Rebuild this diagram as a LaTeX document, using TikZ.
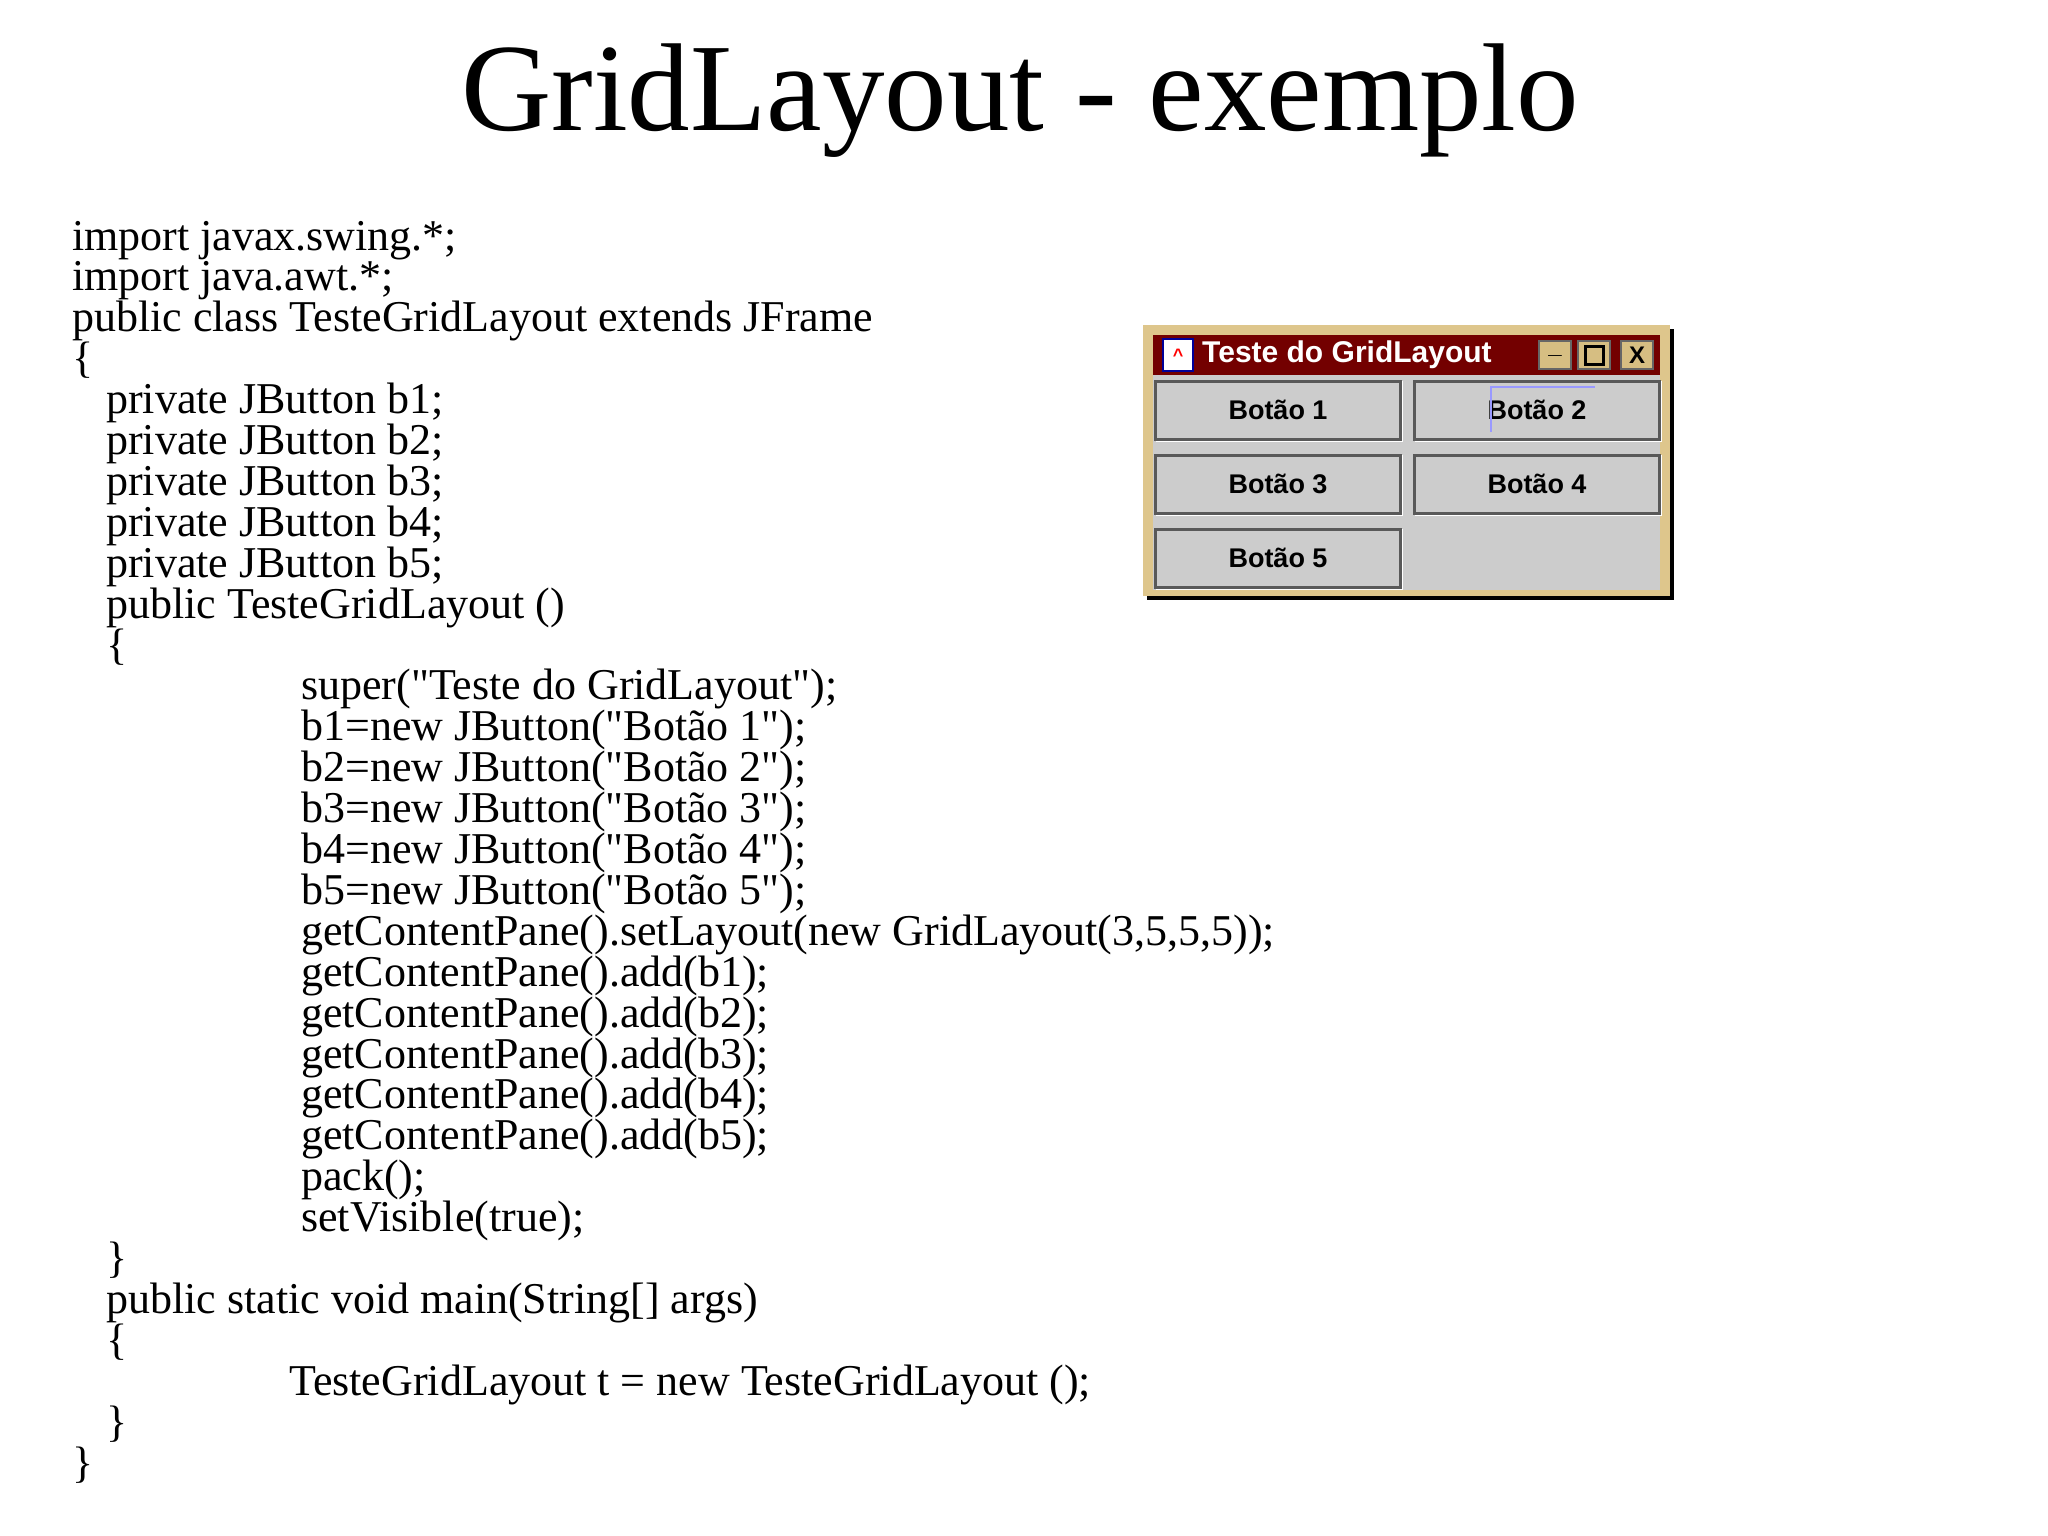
\documentclass[tikz,border=0pt]{standalone}
\usepackage{fontspec}
\setmainfont{Liberation Serif}
\newfontfamily\uifont{Liberation Sans}
\definecolor{tan}{RGB}{222,198,140}
\definecolor{ctlc}{RGB}{214,190,130}
\newcommand{\q}{\textquotedbl}
\begin{document}
\begin{tikzpicture}[x=1pt,y=-1pt,
  code/.style={anchor=base west,inner sep=0pt,font=\fontsize{44}{44}\selectfont},
  btn/.style={draw=black!65,line width=3pt,fill=black!20,minimum width=245pt,minimum height=58pt,font=\uifont\bfseries\fontsize{27}{27}\selectfont},
  ctl/.style={fill=ctlc,draw=black!60,line width=1.5pt,minimum width=32pt,minimum height=28pt,inner sep=0pt,font=\uifont\bfseries\fontsize{24}{24}\selectfont}]
\useasboundingbox[fill=white] (0,0) rectangle (2048,1536);
\node[anchor=base,inner sep=0pt,font=\fontsize{125}{125}\selectfont] (title) at (1020,131) {GridLayout - exemplo};
\foreach \i/\x/\t in {
 1/72/{import javax.swing.*;},
 2/72/{import java.awt.*;},
 3/72/{public class TesteGridLayout extends JFrame},
 4/72/{\{},
 5/106/{private JButton b1;},
 6/106/{private JButton b2;},
 7/106/{private JButton b3;},
 8/106/{private JButton b4;},
 9/106/{private JButton b5;},
 10/106/{public TesteGridLayout ()},
 11/106/{\{},
 12/301/{super(\q Teste do GridLayout\q);},
 13/301/{b1=new JButton(\q Botão 1\q);},
 14/301/{b2=new JButton(\q Botão 2\q);},
 15/301/{b3=new JButton(\q Botão 3\q);},
 16/301/{b4=new JButton(\q Botão 4\q);},
 17/301/{b5=new JButton(\q Botão 5\q);},
 18/301/{getContentPane().setLayout(new GridLayout(3,5,5,5));},
 19/301/{getContentPane().add(b1);},
 20/301/{getContentPane().add(b2);},
 21/301/{getContentPane().add(b3);},
 22/301/{getContentPane().add(b4);},
 23/301/{getContentPane().add(b5);},
 24/301/{pack();},
 25/301/{setVisible(true);},
 26/106/{\}},
 27/106/{public static void main(String[] args)},
 28/106/{\{},
 29/289/{TesteGridLayout t = new TesteGridLayout ();},
 30/106/{\}},
 31/72/{\}}}
 { \node[code] (l\i) at (\x,{250+(\i-1)*40.9}) {\t}; }
% window
\fill[black] (1147,329) rectangle (1674,600);
\fill[tan] (1143,325) rectangle (1670,596);
\fill[black!20] (1153,375) rectangle (1660,590);
\fill[red!45!black] (1153,335) rectangle (1660,375);
\node[fill=white,draw=blue!60!black,line width=2pt,minimum width=30pt,minimum height=32pt,inner sep=0pt,font=\uifont\bfseries\fontsize{18}{18}\selectfont,text=blue!60!black] (icon) at (1178,355) {\textcolor{red}{\^{}}};
\node[anchor=west,text=white,inner sep=0pt,font=\uifont\bfseries\fontsize{30}{30}\selectfont] (wt) at (1202,355) {Teste do GridLayout};
\node[ctl] (mn) at (1555,355) {\_};
\node[ctl] (mx) at (1594,355) {};
\draw[black,line width=3pt] (1585,346) rectangle (1603,364);
\node[ctl] (cl) at (1637,355) {X};
\foreach \n/\x/\y/\t in {b1/1278/410/{Botão 1},b2/1537/410/{Botão 2},b3/1278/484/{Botão 3},b4/1537/484/{Botão 4},b5/1278/558/{Botão 5}}{
  \draw[white,line width=2.5pt] (\x-122,\y+31) -- (\x+124,\y+31) -- (\x+124,\y-29);
  \node[btn] (\n) at (\x,\y) {\t};
}
\draw[blue!40,line width=1.5pt] (1491,432) -- (1491,387) -- (1595,387);
\end{tikzpicture}
\end{document}
